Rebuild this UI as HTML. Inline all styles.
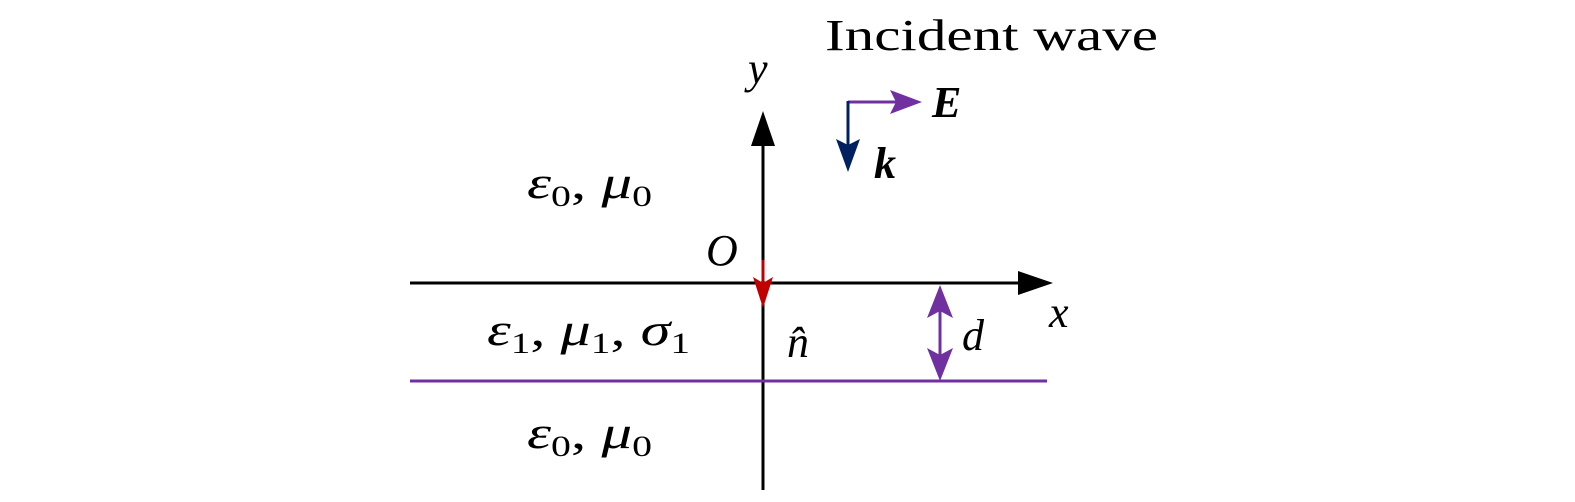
<!DOCTYPE html>
<html><head><style>body{margin:0;background:#fff}svg{display:block}</style></head><body>
<svg width="1575" height="502" xmlns="http://www.w3.org/2000/svg" font-family="Liberation Serif, serif">
<text x="825" y="50" font-size="44" textLength="333" lengthAdjust="spacingAndGlyphs">Incident wave</text>
<!-- axes -->
<line x1="410" y1="283" x2="1025" y2="283" stroke="#000" stroke-width="3"/>
<polygon points="1053,283 1018,271 1018,295" fill="#000"/>
<line x1="763" y1="490" x2="763" y2="140" stroke="#000" stroke-width="3"/>
<polygon points="763,111 751,146 775,146" fill="#000"/>
<line x1="410" y1="381" x2="1047" y2="381" stroke="#7030a0" stroke-width="3"/>
<!-- red normal -->
<line x1="763" y1="260" x2="763" y2="285" stroke="#c00000" stroke-width="3"/>
<polygon points="763,308 753,277 763,283 773,277" fill="#c00000"/>
<!-- d arrow -->
<line x1="940" y1="300" x2="940" y2="365" stroke="#7030a0" stroke-width="3"/>
<polygon points="940,285 927,318 940,311 953,318" fill="#7030a0"/>
<polygon points="940,381 927,348 940,355 953,348" fill="#7030a0"/>
<!-- E, k -->
<line x1="848" y1="102" x2="905" y2="102" stroke="#7030a0" stroke-width="3"/>
<polygon points="922,102 890,90 896,102 890,114" fill="#7030a0"/>
<line x1="848" y1="101" x2="848" y2="155" stroke="#002060" stroke-width="3"/>
<polygon points="848,172 836,139 848,145 860,139" fill="#002060"/>
<text x="932" y="117" font-size="44" font-weight="bold" font-style="italic">E</text>
<text x="874" y="178" font-size="44" font-weight="bold" font-style="italic">k</text>
<g font-size="44" font-style="italic">
<text x="748" y="83">y</text>
<text x="706" y="265">O</text>
<text x="1049" y="327">x</text>
<text x="962" y="350">d</text>
<text x="787" y="357">n̂</text>
</g>
<g font-size="46">
<text x="527" y="198" textLength="125" lengthAdjust="spacingAndGlyphs"><tspan font-style="italic">ε</tspan><tspan font-size="30" dy="8">0</tspan><tspan dy="-8">, </tspan><tspan font-style="italic">μ</tspan><tspan font-size="30" dy="8">0</tspan></text>
<text x="487" y="345" textLength="203" lengthAdjust="spacingAndGlyphs"><tspan font-style="italic">ε</tspan><tspan font-size="30" dy="8">1</tspan><tspan dy="-8">, </tspan><tspan font-style="italic">μ</tspan><tspan font-size="30" dy="8">1</tspan><tspan dy="-8">, </tspan><tspan font-style="italic">σ</tspan><tspan font-size="30" dy="8">1</tspan></text>
<text x="527" y="448" textLength="125" lengthAdjust="spacingAndGlyphs"><tspan font-style="italic">ε</tspan><tspan font-size="30" dy="8">0</tspan><tspan dy="-8">, </tspan><tspan font-style="italic">μ</tspan><tspan font-size="30" dy="8">0</tspan></text>
</g>
</svg>
</body></html>
